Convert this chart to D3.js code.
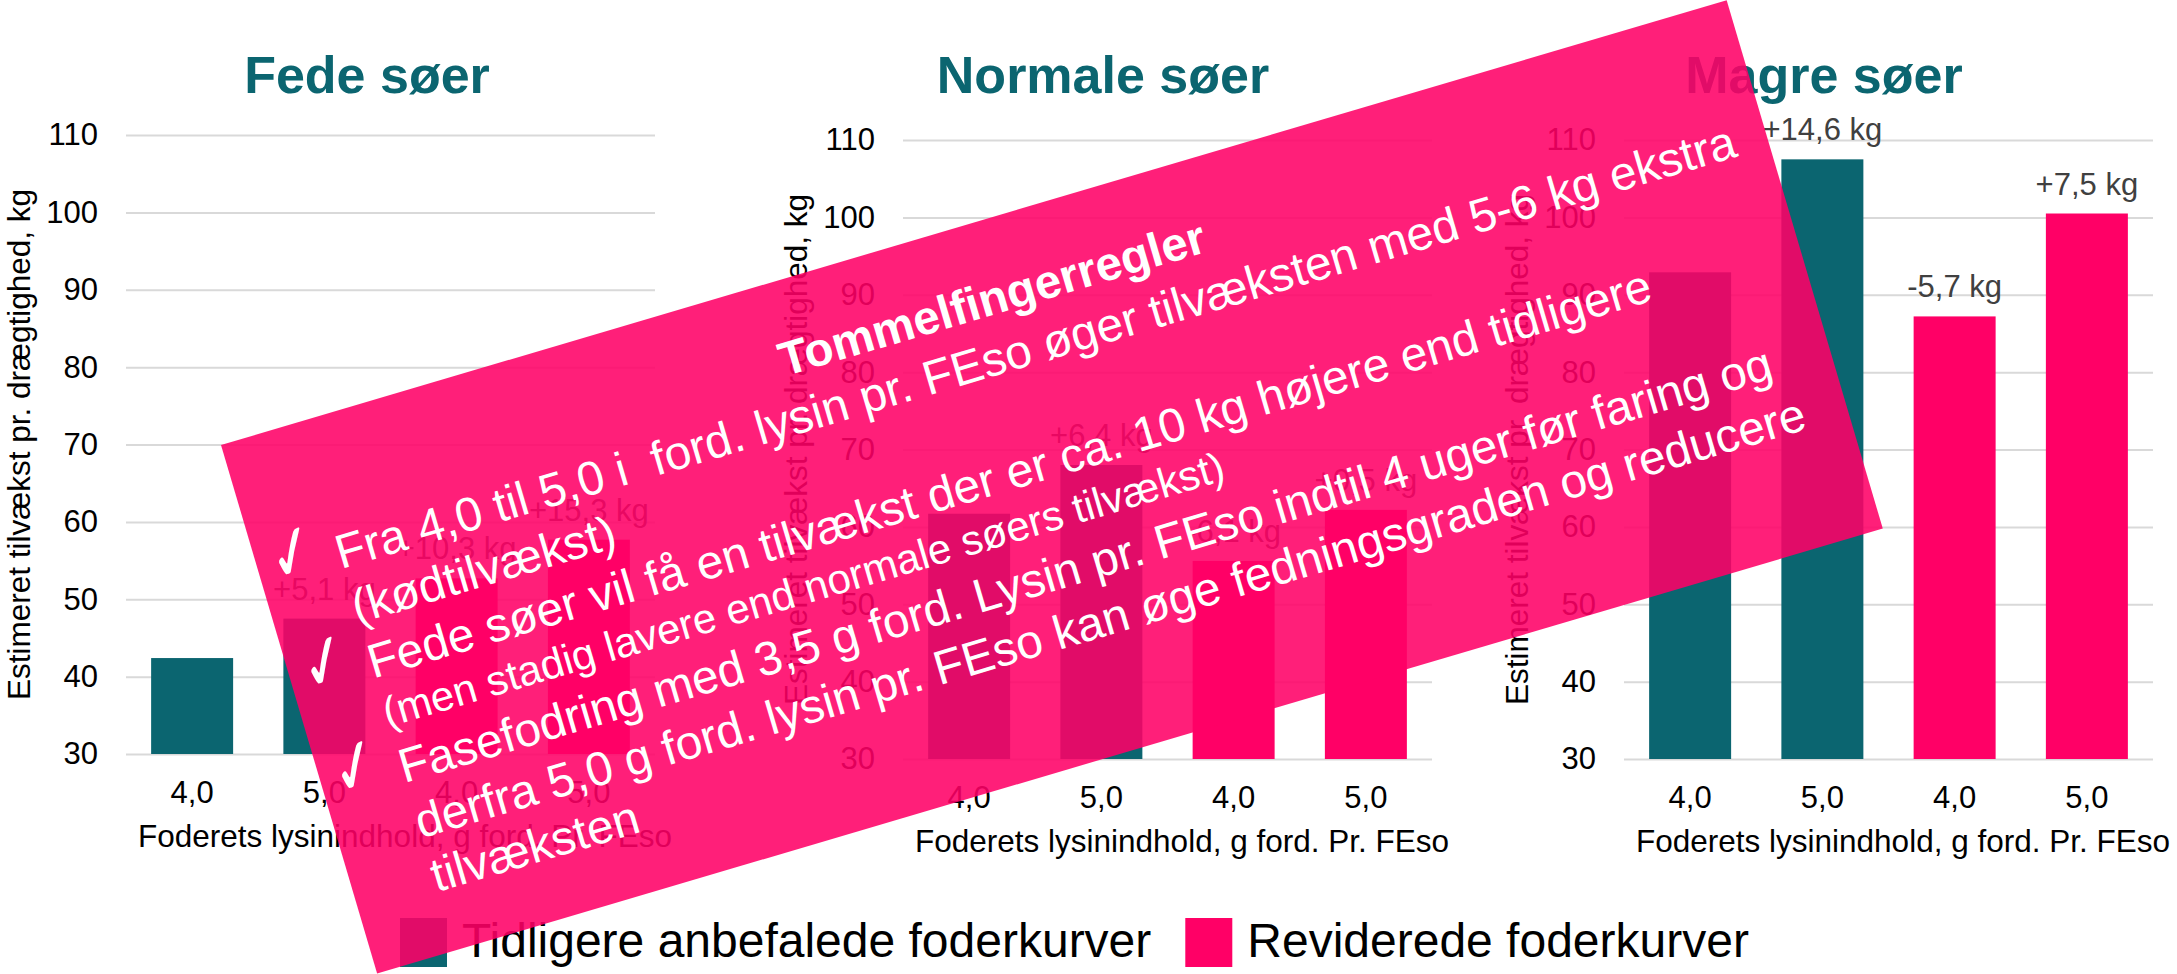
<!DOCTYPE html>
<html lang="da">
<head>
<meta charset="UTF-8">
<title>Tilvækst pr. drægtighed</title>
<script src="https://cdn.jsdelivr.net/npm/d3@7"></script>
<style>
  body { margin: 0; background: #fff; }
  svg text { font-family: "Liberation Sans", Arial, sans-serif; }
</style>
</head>
<body>
<svg width="2177" height="974"></svg>
<script>
// data
var panels = ["Fede søer", "Normale søer", "Magre søer"];
var lysin = ["4,0", "5,0", "4,0", "5,0"];
var series = ["Tidligere anbefalede foderkurver", "Reviderede foderkurver"];
var fede = [42.4, 47.5, 52.7, 57.7];
var normale = [61.7, 68.0, 55.6, 62.2];
var magre = [92.9, 107.5, 87.2, 100.5];
var fedeDiff = ["", "+5,1 kg", "+10,3 kg", "+15,3 kg"];
var normaleDiff = ["", "+6,4 kg", "-6,1 kg", "+0,5 kg"];
var magreDiff = ["", "+14,6 kg", "-5,7 kg", "+7,5 kg"];
var yTicks = [30, 40, 50, 60, 70, 80, 90, 100, 110];
var yTitle = "Estimeret tilvækst pr. drægtighed, kg";
var xTitle = "Foderets lysinindhold, g ford. Pr. FEso";

var ruleTitle = "Tommelfingerregler";
var ruleLines = [
    "Fra 4,0 til 5,0 i  ford. lysin pr. FEso øger tilvæksten med 5-6 kg ekstra",
    "(kødtilvækst)",
    "Fede søer vil få en tilvækst der er ca. 10 kg højere end tidligere",
    "(men stadig lavere end normale søers tilvækst)",
    "Fasefodring med 3,5 g ford. Lysin pr. FEso indtil 4 uger før faring og",
    "derfra 5,0 g ford. lysin pr. FEso kan øge fedningsgraden og reducere",
    "tilvæksten"
];
var ruleChecks = [true, false, true, false, true, false, false];

var teal = "#0B6570", pink = "#FF0066";
var colors = [teal, teal, pink, pink];

var svg = d3.select("svg");

var values = [fede, normale, magre];
var diffs = [fedeDiff, normaleDiff, magreDiff];
// layout of each small chart
var layout = [
    {left: 126, top: 135, titleX: 367},
    {left: 903, top: 140, titleX: 1103},
    {left: 1624, top: 140, titleX: 1824}
];
var W = 529, H = 619;

panels.forEach(function (name, p) {
    var L = layout[p];
    var g = svg.append("g").attr("transform", "translate(" + L.left + "," + L.top + ")");

    var x = d3.scaleBand().domain(d3.range(lysin.length)).range([0, W])
        .paddingInner(0.38).paddingOuter(0.19);
    var y = d3.scaleLinear().domain([30, 110]).range([H, 0]);

    // y axis with gridlines
    var ya = g.append("g")
        .call(d3.axisLeft(y).tickValues(yTicks).tickSize(-W).tickPadding(28));
    ya.select(".domain").remove();
    ya.selectAll("line").attr("stroke", "#D9D9D9").attr("stroke-width", 2);
    ya.selectAll("text").attr("font-size", 31).attr("fill", "#000")
        .attr("font-family", "Liberation Sans, Arial, sans-serif");

    // x axis
    var xa = g.append("g").attr("transform", "translate(0," + H + ")")
        .call(d3.axisBottom(x).tickFormat(function (i) { return lysin[i]; })
            .tickSize(0).tickPadding(27));
    xa.select(".domain").remove();
    xa.selectAll("text").attr("font-size", 31).attr("fill", "#000")
        .attr("font-family", "Liberation Sans, Arial, sans-serif");

    // bars
    g.selectAll("rect.bar").data(values[p]).enter().append("rect")
        .attr("class", "bar")
        .attr("x", function (d, i) { return x(i); })
        .attr("width", x.bandwidth())
        .attr("y", function (d) { return y(d); })
        .attr("height", function (d) { return H - y(d); })
        .attr("fill", function (d, i) { return colors[i]; });

    // value labels
    g.selectAll("text.lbl").data(values[p]).enter().append("text")
        .attr("class", "lbl")
        .attr("x", function (d, i) { return x(i) + x.bandwidth() / 2; })
        .attr("y", function (d) { return y(d) - 19; })
        .attr("text-anchor", "middle")
        .attr("font-size", 31)
        .attr("fill", "#404040")
        .text(function (d, i) { return diffs[p][i]; });

    // titles
    svg.append("text")
        .attr("x", L.titleX).attr("y", 93)
        .attr("text-anchor", "middle")
        .attr("font-size", 52).attr("font-weight", "bold")
        .attr("fill", teal)
        .text(name);

    g.append("text")
        .attr("x", 279).attr("y", H + 93)
        .attr("text-anchor", "middle")
        .attr("font-size", 31.5).attr("fill", "#000")
        .text(xTitle);

    g.append("text")
        .attr("transform", "translate(-96," + (H / 2) + ") rotate(-90)")
        .attr("text-anchor", "middle")
        .attr("font-size", 31.5).attr("fill", "#000")
        .text(yTitle);
});

// legend
var leg = svg.append("g").attr("transform", "translate(400,918)");
var lx = 0;
series.forEach(function (s, i) {
    leg.append("rect").attr("x", lx).attr("y", 0).attr("width", 47).attr("height", 49)
        .attr("fill", i === 0 ? teal : pink);
    var t = leg.append("text").attr("x", lx + 62).attr("y", 39)
        .attr("font-size", 48).attr("fill", "#000").text(s);
    lx = lx + 62 + t.node().getComputedTextLength() + 34;
});

// rotated note box on top
var note = svg.append("g").attr("transform", "translate(221,445) rotate(-16.46)");
note.append("rect").attr("width", 1570).attr("height", 551)
    .attr("fill", pink).attr("opacity", 0.88);

note.append("text")
    .attr("x", 781).attr("y", 94)
    .attr("text-anchor", "middle")
    .attr("font-size", 47.5).attr("font-weight", "bold")
    .attr("fill", "#fff")
    .text(ruleTitle);

var lineY = [153, 210, 267, 318, 376, 434, 490];
var lineSize = [47.7, 47.7, 47.7, 42, 47.7, 47.7, 47.7];

note.selectAll("text.rule").data(ruleLines).enter().append("text")
    .attr("class", "rule")
    .attr("x", 80)
    .attr("y", function (d, i) { return lineY[i]; })
    .attr("font-size", function (d, i) { return lineSize[i]; })
    .attr("fill", "#fff")
    .style("white-space", "pre")
    .text(function (d) { return d; });

// check marks in front of the bullet lines
note.selectAll("text.check").data(ruleChecks.map(function (c, i) { return c ? i : -1; })
        .filter(function (i) { return i >= 0; }))
    .enter().append("text")
    .attr("class", "check")
    .attr("transform", function (i) { return "translate(14," + (lineY[i] - 3) + ") scale(0.72,1)"; })
    .attr("font-size", 78)
    .style("font-family", "DejaVu Sans, sans-serif")
    .attr("fill", "#fff")
    .text("\u2713");
</script>
</body>
</html>
